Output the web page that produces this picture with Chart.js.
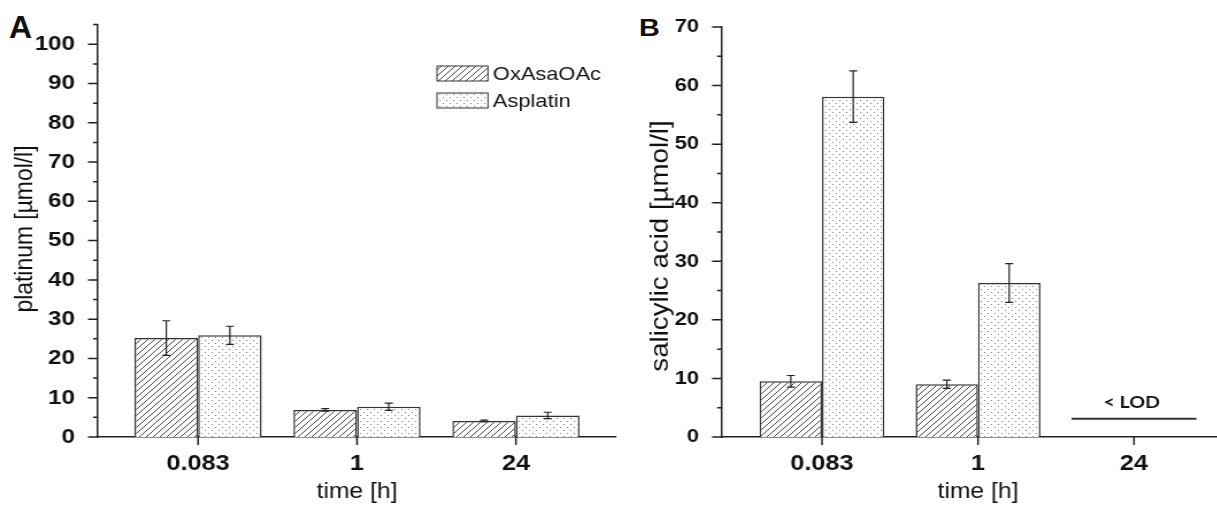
<!DOCTYPE html>
<html>
<head>
<meta charset="utf-8">
<script src="https://cdn.jsdelivr.net/npm/chart.js@4.4.1/dist/chart.umd.min.js"></script>
<style>
  html, body { margin: 0; padding: 0; background: #fff; }
  body { position: relative; width: 1217px; height: 506px; overflow: hidden; font-family: "Liberation Sans", Arial, sans-serif; }
  .panel { position: absolute; top: 0; height: 506px; transform: scaleX(1.15); transform-origin: 0 0; }
  .tag { position: absolute; font-weight: bold; color: #111; line-height: 1; transform-origin: 0 0; }
</style>
</head>
<body>
<div class="tag" style="left:9px;top:11px;font-size:32px">A</div>
<div class="tag" style="left:639px;top:16px;font-size:24px;transform:scaleX(1.2)">B</div>
<div class="panel" style="left:0;width:548px"><canvas id="chartA" width="548" height="506"></canvas></div>
<div class="panel" style="left:600px;width:560px"><canvas id="chartB" width="560" height="506"></canvas></div>
<script>
// data
const categories = ['0.083', '1', '24'];
const seriesNames = ['OxAsaOAc', 'Asplatin'];

const platinumOx = [25.2, 6.9, 4.1];
const platinumOxErr = [4.4, 0.3, 0.2];
const platinumAsp = [25.9, 7.7, 5.5];
const platinumAspErr = [2.3, 0.9, 0.8];

const salicylOx = [9.5, 9.0, null];
const salicylOxErr = [1.0, 0.7, null];
const salicylAsp = [58.1, 26.3, null];
const salicylAspErr = [4.4, 3.3, null];

const lodIndex = 2;
const lodValue = 3.1;

const FONT = "'Liberation Sans', Arial, sans-serif";
const ink = '#222';

function hatchPattern(ctx) {
  const c = document.createElement('canvas');
  c.width = 6; c.height = 6;
  const g = c.getContext('2d');
  g.fillStyle = '#fff';
  g.fillRect(0, 0, 6, 6);
  g.strokeStyle = '#4a4a4a';
  g.lineWidth = 1;
  g.beginPath();
  g.moveTo(0, 6); g.lineTo(6, 0);
  g.moveTo(-3, 3); g.lineTo(3, -3);
  g.moveTo(3, 9); g.lineTo(9, 3);
  g.stroke();
  return ctx.createPattern(c, 'repeat');
}

function dotPattern(ctx) {
  const c = document.createElement('canvas');
  c.width = 6; c.height = 6;
  const g = c.getContext('2d');
  g.fillStyle = '#fff';
  g.fillRect(0, 0, 6, 6);
  g.fillStyle = '#808080';
  g.fillRect(1, 1, 1, 1);
  g.fillRect(4, 4, 1, 1);
  return ctx.createPattern(c, 'repeat');
}

function points(values) {
  return values.map((v, i) => ({ x: i, y: v }));
}

const errorBars = {
  id: 'errorBars',
  afterDatasetsDraw(chart) {
    const ctx = chart.ctx, ys = chart.scales.y;
    ctx.save();
    ctx.strokeStyle = ink;
    ctx.lineWidth = 1.2;
    chart.data.datasets.forEach((ds, i) => {
      const meta = chart.getDatasetMeta(i);
      meta.data.forEach((bar, j) => {
        const v = ds.data[j].y, e = ds.errors[j];
        if (v == null || e == null) return;
        const top = ys.getPixelForValue(v + e), bot = ys.getPixelForValue(v - e);
        ctx.beginPath();
        ctx.moveTo(bar.x, top); ctx.lineTo(bar.x, bot);
        ctx.moveTo(bar.x - 3.5, top); ctx.lineTo(bar.x + 3.5, top);
        ctx.moveTo(bar.x - 3.5, bot); ctx.lineTo(bar.x + 3.5, bot);
        ctx.stroke();
      });
    });
    ctx.restore();
  }
};

// outward tick marks, minor every 5
const axisTicks = {
  id: 'axisTicks',
  afterDraw(chart) {
    const ctx = chart.ctx, xs = chart.scales.x, ys = chart.scales.y;
    ctx.save();
    ctx.strokeStyle = ink;
    ctx.lineWidth = 1.5;
    ctx.beginPath();
    for (let v = 0; v <= ys.max + 1e-6; v += 5) {
      const py = ys.getPixelForValue(v);
      const len = v % 10 === 0 ? 8.7 : 4.3;
      ctx.moveTo(ys.right - len, py);
      ctx.lineTo(ys.right, py);
    }
    categories.forEach((c, i) => {
      const px = xs.getPixelForValue(i);
      ctx.moveTo(px, xs.top);
      ctx.lineTo(px, xs.top + 8);
    });
    ctx.stroke();
    ctx.restore();
  }
};

// rotated y title, drawn by hand so it can be stretched along its length
const sideTitle = {
  id: 'sideTitle',
  afterDraw(chart, args, o) {
    const ctx = chart.ctx;
    ctx.save();
    ctx.translate(o.x, o.y);
    ctx.rotate(-Math.PI / 2);
    ctx.scale(o.stretch, 1);
    ctx.font = o.size + 'px ' + FONT;
    ctx.textAlign = 'center';
    ctx.textBaseline = 'middle';
    ctx.fillStyle = '#111';
    ctx.fillText(o.text, 0, 0);
    ctx.restore();
  }
};

const boxLegend = {
  id: 'boxLegend',
  afterDraw(chart, args, o) {
    if (!o.show) return;
    const ctx = chart.ctx;
    ctx.save();
    ctx.font = '19px ' + FONT;
    ctx.textBaseline = 'middle';
    chart.data.datasets.forEach((ds, i) => {
      const top = o.top + i * o.gap;
      ctx.fillStyle = ds.backgroundColor;
      ctx.fillRect(o.left, top, o.w, o.h);
      ctx.strokeStyle = '#333';
      ctx.lineWidth = 1;
      ctx.strokeRect(o.left, top, o.w, o.h);
      ctx.fillStyle = '#111';
      ctx.fillText(ds.label, o.left + o.w + 4.3, top + o.h / 2 + 1);
    });
    ctx.restore();
  }
};

const lodMark = {
  id: 'lodMark',
  afterDatasetsDraw(chart, args, o) {
    if (!o.show) return;
    const ctx = chart.ctx, xs = chart.scales.x, ys = chart.scales.y;
    const x0 = xs.getPixelForValue(lodIndex - 0.4), x1 = xs.getPixelForValue(lodIndex + 0.4);
    const py = ys.getPixelForValue(lodValue);
    ctx.save();
    ctx.strokeStyle = '#333';
    ctx.lineWidth = 2;
    ctx.beginPath();
    ctx.moveTo(x0, py); ctx.lineTo(x1, py);
    ctx.stroke();
    ctx.fillStyle = '#111';
    ctx.font = "bold 17px Lato, 'Open Sans', sans-serif";
    ctx.textAlign = 'center';
    ctx.textBaseline = 'alphabetic';
    ctx.fillText('< LOD', (x0 + x1) / 2 - 2, py - 10.5);
    ctx.restore();
  }
};

function makeChart(id, p) {
  const canvas = document.getElementById(id);
  const ctx = canvas.getContext('2d');
  return new Chart(ctx, {
    type: 'bar',
    data: {
      datasets: [
        { label: seriesNames[0], data: points(p.ox), errors: p.oxErr, backgroundColor: hatchPattern(ctx), borderColor: '#333', borderWidth: 1.5 },
        { label: seriesNames[1], data: points(p.asp), errors: p.aspErr, backgroundColor: dotPattern(ctx), borderColor: '#333', borderWidth: 1.5 }
      ]
    },
    options: {
      responsive: false,
      animation: false,
      devicePixelRatio: 1,
      categoryPercentage: 0.8,
      barPercentage: 1,
      layout: { padding: { top: p.top, right: p.right, left: 0, bottom: 0 } },
      plugins: {
        legend: { display: false },
        tooltip: { enabled: false },
        boxLegend: { show: !!p.legend, left: 380, top: 66, w: 44.3, h: 15, gap: 27 },
        lodMark: { show: !!p.lod },
        sideTitle: p.yTitle
      },
      scales: {
        x: {
          type: 'linear',
          offset: false,
          min: -p.margin,
          max: categories.length - 1 + p.margin,
          afterFit: (s) => { s.height = 69; },
          grid: { display: false },
          border: { display: true, color: ink, width: 1.5 },
          ticks: {
            stepSize: 1,
            includeBounds: false,
            maxRotation: 0,
            padding: 6,
            color: '#111',
            font: { family: FONT, size: 22, weight: 'bold' },
            callback: (v) => categories[v] !== undefined ? categories[v] : ''
          },
          title: { display: true, text: 'time [h]', color: '#111', font: { family: FONT, size: 21.5 }, padding: { top: 0, bottom: 1 } }
        },
        y: {
          min: 0,
          max: p.max,
          afterFit: (s) => { s.width = p.axisLeft; },
          grid: { display: false },
          border: { display: true, color: ink, width: 1.5 },
          ticks: {
            stepSize: 10,
            includeBounds: false,
            padding: 12,
            color: '#111',
            font: { family: FONT, size: p.yTickSize, weight: 'bold' }
          }
        }
      }
    },
    plugins: [errorBars, axisTicks, boxLegend, lodMark, sideTitle]
  });
}

makeChart('chartA', {
  ox: platinumOx, oxErr: platinumOxErr, asp: platinumAsp, aspErr: platinumAspErr,
  max: 105, top: 24, right: 12.3, axisLeft: 85.2, margin: 0.63, yTickSize: 21,
  yTitle: { text: 'platinum [µmol/l]', x: 21.7, y: 229, size: 22, stretch: 1.04 },
  legend: true
});

makeChart('chartB', {
  ox: salicylOx, oxErr: salicylOxErr, asp: salicylAsp, aspErr: salicylAspErr,
  max: 70, top: 27, right: 8.7, axisLeft: 106.1, margin: 0.641, yTickSize: 19,
  yTitle: { text: 'salicylic acid [µmol/l]', x: 53, y: 246, size: 21.3, stretch: 1.3 },
  lod: true
});
</script>
</body>
</html>
